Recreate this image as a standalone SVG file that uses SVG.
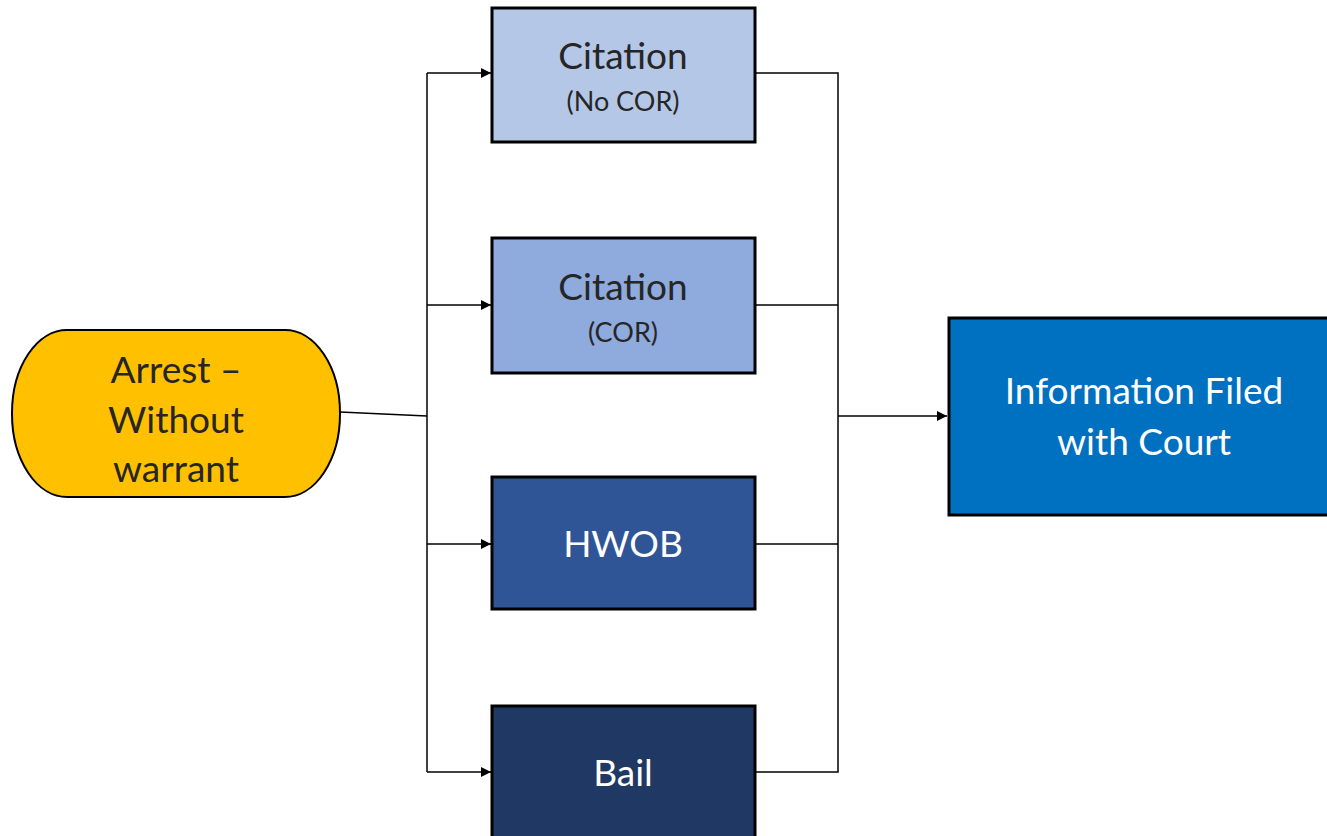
<svg xmlns="http://www.w3.org/2000/svg" width="1327" height="836" viewBox="0 0 1327 836">
<defs>
<marker id="arr" viewBox="0 0 10 10" refX="10" refY="5" markerWidth="10" markerHeight="10" markerUnits="userSpaceOnUse" orient="auto">
<path d="M0,0 L10,5 L0,10 z" fill="#000"/>
</marker>
<style>
.box{stroke:#000;stroke-width:3}
.t{font-family:Lato,"Open Sans","Liberation Sans",sans-serif;text-anchor:middle}
.big{font-size:37px}
.small{font-size:27px}
.dk{fill:#262626}
.wh{fill:#fff}
.c{fill:none;stroke:#000;stroke-width:1.5}
</style>
</defs>
<rect width="1327" height="836" fill="#fff"/>
<g id="connectors">
<path class="c" d="M340,412 L427,416"/>
<path class="c" d="M427,73 L427,772"/>
<path class="c" d="M427,73 L491,73" marker-end="url(#arr)"/>
<path class="c" d="M427,305 L491,305" marker-end="url(#arr)"/>
<path class="c" d="M427,544 L491,544" marker-end="url(#arr)"/>
<path class="c" d="M427,772 L491,772" marker-end="url(#arr)"/>
<path class="c" d="M755,73 L838,73 L838,772 L755,772"/>
<path class="c" d="M755,305 L838,305"/>
<path class="c" d="M755,544 L838,544"/>
<path class="c" d="M838,416 L947,416" marker-end="url(#arr)"/>
</g>
<g id="arrest">
<rect x="12" y="330" width="328" height="167" rx="55" ry="83" fill="#FFC000" stroke="#000" stroke-width="2"/>
<text class="t big dk" x="176" y="383">Arrest –</text>
<text class="t big dk" x="176" y="433">Without</text>
<text class="t big dk" x="176" y="482">warrant</text>
</g>
<g id="citation-no-cor">
<rect class="box" x="492" y="8" width="263" height="134" fill="#B4C7E7"/>
<text class="t big dk" x="623" y="69">Citation</text>
<text class="t small dk" x="623" y="111">(No COR)</text>
</g>
<g id="citation-cor">
<rect class="box" x="492" y="238" width="263" height="135" fill="#8FAADC"/>
<text class="t big dk" x="623" y="300">Citation</text>
<text class="t small dk" x="623" y="342">(COR)</text>
</g>
<g id="hwob">
<rect class="box" x="492" y="477" width="263" height="132" fill="#2F5597"/>
<text class="t big wh" x="623" y="557">HWOB</text>
</g>
<g id="bail">
<rect class="box" x="492" y="706" width="263" height="140" fill="#203864"/>
<text class="t big wh" x="623" y="786">Bail</text>
</g>
<g id="information-filed">
<rect class="box" x="949" y="318" width="390" height="197" fill="#0070C0"/>
<text class="t big wh" x="1144" y="404">Information Filed</text>
<text class="t big wh" x="1144" y="455">with Court</text>
</g>
</svg>
